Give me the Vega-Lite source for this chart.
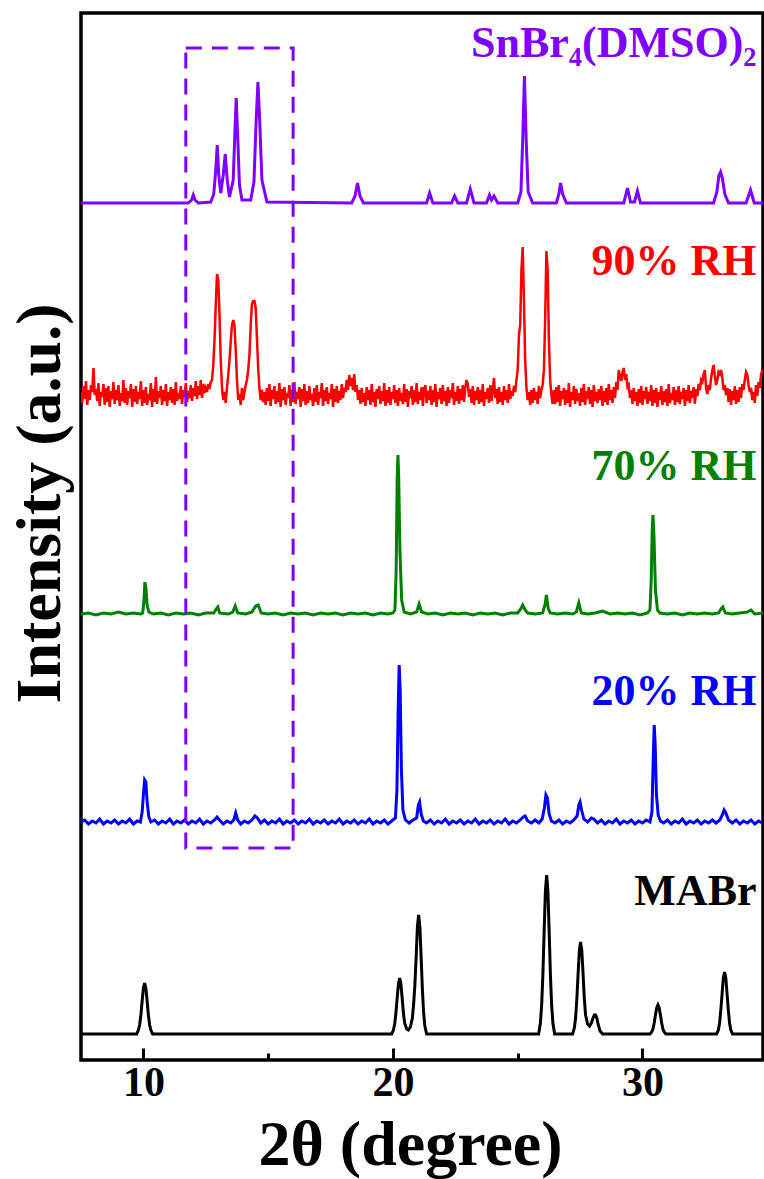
{
"$schema": "https://vega.github.io/schema/vega-lite/v6.json",
"width": 682, "height": 1047,
"autosize": "none",
"padding": {"left": 81, "top": 13, "right": 1, "bottom": 119},
"config": {"view": {"stroke": "black", "strokeWidth": 3.5}, "font": "Liberation Serif"},
"datasets": {
"mabr": [
{"x":7.5,"y":26},{"x":9.73,"y":26},{"x":9.8,"y":30},{"x":9.85,"y":35},{"x":9.9,"y":45},{"x":9.95,"y":59},{"x":10.0,"y":72},{"x":10.05,"y":77},{"x":10.1,"y":72},{"x":10.15,"y":59},{"x":10.2,"y":45},{"x":10.25,"y":35},{"x":10.3,"y":30},{"x":10.37,"y":26},
{"x":19.95,"y":26},{"x":20.02,"y":30},{"x":20.07,"y":36},{"x":20.12,"y":47},{"x":20.17,"y":62},{"x":20.22,"y":76},{"x":20.27,"y":82},{"x":20.32,"y":76},{"x":20.37,"y":62},{"x":20.42,"y":47},{"x":20.47,"y":37},{"x":20.55,"y":31},{"x":20.62,"y":30},
{"x":20.7,"y":33},{"x":20.78,"y":42},{"x":20.83,"y":56},{"x":20.88,"y":75},{"x":20.93,"y":103},{"x":20.98,"y":133},{"x":21.03,"y":145},{"x":21.08,"y":133},{"x":21.13,"y":103},{"x":21.18,"y":71},{"x":21.23,"y":47},{"x":21.28,"y":34},{"x":21.35,"y":26},
{"x":25.84,"y":26},{"x":25.91,"y":37},{"x":25.96,"y":55},{"x":26.01,"y":86},{"x":26.06,"y":129},{"x":26.11,"y":169},{"x":26.16,"y":185},{"x":26.21,"y":169},{"x":26.26,"y":129},{"x":26.31,"y":86},{"x":26.36,"y":55},{"x":26.41,"y":37},{"x":26.48,"y":26},
{"x":27.2,"y":26},{"x":27.27,"y":32},{"x":27.32,"y":42},{"x":27.37,"y":61},{"x":27.42,"y":86},{"x":27.47,"y":109},{"x":27.52,"y":118},{"x":27.57,"y":109},{"x":27.62,"y":86},{"x":27.67,"y":61},{"x":27.72,"y":45},{"x":27.8,"y":36},{"x":27.88,"y":34},{"x":27.95,"y":37},{"x":28.02,"y":42},{"x":28.07,"y":45},{"x":28.12,"y":45},{"x":28.17,"y":42},{"x":28.22,"y":36},{"x":28.3,"y":29},{"x":28.4,"y":26},
{"x":30.3,"y":26},{"x":30.37,"y":28},{"x":30.42,"y":31},{"x":30.47,"y":37},{"x":30.52,"y":45},{"x":30.57,"y":52},{"x":30.62,"y":55},{"x":30.67,"y":52},{"x":30.72,"y":45},{"x":30.77,"y":37},{"x":30.82,"y":31},{"x":30.87,"y":28},{"x":30.94,"y":26},
{"x":32.97,"y":26},{"x":33.04,"y":30},{"x":33.09,"y":37},{"x":33.14,"y":50},{"x":33.19,"y":66},{"x":33.24,"y":82},{"x":33.29,"y":88},{"x":33.34,"y":82},{"x":33.39,"y":66},{"x":33.44,"y":50},{"x":33.49,"y":37},{"x":33.54,"y":30},{"x":33.61,"y":26},{"x":34.85,"y":26}
],
"rh20": [
{"x":7.5,"y":238},{"x":7.65,"y":240},{"x":7.8,"y":236},{"x":7.95,"y":239},{"x":8.1,"y":237},{"x":8.25,"y":241},{"x":8.4,"y":236},{"x":8.55,"y":239},{"x":8.7,"y":237},{"x":8.85,"y":240},{"x":9.0,"y":236},{"x":9.15,"y":239},{"x":9.3,"y":237},{"x":9.45,"y":241},{"x":9.6,"y":236},{"x":9.75,"y":239},{"x":9.88,"y":238},{"x":9.95,"y":248},{"x":10.0,"y":265},{"x":10.05,"y":280},{"x":10.1,"y":278},{"x":10.15,"y":258},{"x":10.22,"y":243},{"x":10.3,"y":238},{"x":10.45,"y":240},{"x":10.6,"y":236},{"x":10.75,"y":239},{"x":10.9,"y":237},{"x":11.05,"y":241},{"x":11.2,"y":236},{"x":11.35,"y":239},{"x":11.5,"y":237},{"x":11.65,"y":240},{"x":11.8,"y":236},{"x":11.95,"y":239},{"x":12.1,"y":237},{"x":12.25,"y":241},{"x":12.4,"y":236},{"x":12.55,"y":239},{"x":12.7,"y":237},{"x":12.85,"y":240},{"x":12.95,"y":243},{"x":13.05,"y":240},{"x":13.2,"y":236},{"x":13.35,"y":239},{"x":13.5,"y":237},{"x":13.62,"y":240},{"x":13.7,"y":247},{"x":13.78,"y":240},{"x":13.9,"y":236},{"x":14.05,"y":239},{"x":14.2,"y":237},{"x":14.35,"y":240},{"x":14.47,"y":244},{"x":14.57,"y":242},{"x":14.7,"y":237},{"x":14.85,"y":240},{"x":15.0,"y":236},{"x":15.15,"y":239},{"x":15.3,"y":237},{"x":15.45,"y":241},{"x":15.6,"y":236},{"x":15.75,"y":239},{"x":15.9,"y":237},{"x":16.05,"y":240},{"x":16.2,"y":236},{"x":16.35,"y":239},{"x":16.5,"y":237},{"x":16.65,"y":241},{"x":16.8,"y":236},{"x":16.95,"y":239},{"x":17.1,"y":237},{"x":17.25,"y":240},{"x":17.4,"y":236},{"x":17.55,"y":239},{"x":17.7,"y":237},{"x":17.85,"y":241},{"x":18.0,"y":236},{"x":18.15,"y":239},{"x":18.3,"y":237},{"x":18.45,"y":240},{"x":18.6,"y":236},{"x":18.75,"y":239},{"x":18.9,"y":237},{"x":19.05,"y":241},{"x":19.2,"y":236},{"x":19.35,"y":239},{"x":19.5,"y":237},{"x":19.65,"y":240},{"x":19.8,"y":236},{"x":19.95,"y":239},{"x":20.1,"y":242},{"x":20.16,"y":270},{"x":20.21,"y":350},{"x":20.25,"y":395},{"x":20.29,"y":370},{"x":20.34,"y":290},{"x":20.4,"y":250},{"x":20.5,"y":240},{"x":20.65,"y":237},{"x":20.8,"y":240},{"x":20.95,"y":242},{"x":21.02,"y":255},{"x":21.07,"y":258},{"x":21.13,"y":246},{"x":21.22,"y":239},{"x":21.35,"y":237},{"x":21.5,"y":240},{"x":21.65,"y":236},{"x":21.8,"y":239},{"x":21.95,"y":237},{"x":22.1,"y":241},{"x":22.25,"y":236},{"x":22.4,"y":239},{"x":22.55,"y":237},{"x":22.7,"y":240},{"x":22.85,"y":236},{"x":23.0,"y":239},{"x":23.15,"y":237},{"x":23.3,"y":241},{"x":23.45,"y":236},{"x":23.6,"y":239},{"x":23.75,"y":237},{"x":23.9,"y":240},{"x":24.05,"y":236},{"x":24.2,"y":239},{"x":24.35,"y":237},{"x":24.5,"y":241},{"x":24.65,"y":236},{"x":24.8,"y":239},{"x":24.95,"y":237},{"x":25.1,"y":240},{"x":25.22,"y":243},{"x":25.3,"y":244},{"x":25.4,"y":239},{"x":25.55,"y":237},{"x":25.7,"y":240},{"x":25.85,"y":237},{"x":25.98,"y":241},{"x":26.07,"y":252},{"x":26.13,"y":265},{"x":26.19,"y":262},{"x":26.26,"y":246},{"x":26.35,"y":239},{"x":26.5,"y":237},{"x":26.65,"y":240},{"x":26.8,"y":236},{"x":26.95,"y":239},{"x":27.1,"y":237},{"x":27.25,"y":240},{"x":27.38,"y":244},{"x":27.45,"y":255},{"x":27.5,"y":258},{"x":27.56,"y":250},{"x":27.65,"y":241},{"x":27.8,"y":238},{"x":27.95,"y":242},{"x":28.05,"y":241},{"x":28.2,"y":237},{"x":28.35,"y":240},{"x":28.5,"y":236},{"x":28.65,"y":239},{"x":28.8,"y":237},{"x":28.95,"y":241},{"x":29.1,"y":236},{"x":29.25,"y":239},{"x":29.4,"y":237},{"x":29.55,"y":240},{"x":29.7,"y":236},{"x":29.85,"y":239},{"x":30.0,"y":237},{"x":30.15,"y":240},{"x":30.3,"y":238},{"x":30.38,"y":248},{"x":30.43,"y":300},{"x":30.47,"y":335},{"x":30.51,"y":315},{"x":30.56,"y":265},{"x":30.63,"y":245},{"x":30.72,"y":239},{"x":30.85,"y":237},{"x":31.0,"y":240},{"x":31.15,"y":236},{"x":31.3,"y":239},{"x":31.45,"y":237},{"x":31.6,"y":241},{"x":31.75,"y":236},{"x":31.9,"y":239},{"x":32.05,"y":237},{"x":32.2,"y":240},{"x":32.35,"y":236},{"x":32.5,"y":239},{"x":32.65,"y":237},{"x":32.8,"y":240},{"x":32.95,"y":237},{"x":33.1,"y":240},{"x":33.2,"y":245},{"x":33.27,"y":250},{"x":33.34,"y":247},{"x":33.45,"y":240},{"x":33.6,"y":237},{"x":33.75,"y":240},{"x":33.9,"y":236},{"x":34.05,"y":239},{"x":34.2,"y":237},{"x":34.35,"y":240},{"x":34.5,"y":236},{"x":34.65,"y":239},{"x":34.8,"y":237}
],
"rh70": [
{"x":7.5,"y":446},{"x":7.8,"y":447},{"x":8.1,"y":445},{"x":8.4,"y":447},{"x":8.7,"y":446},{"x":9.0,"y":448},{"x":9.3,"y":446},{"x":9.6,"y":447},{"x":9.9,"y":446},{"x":9.97,"y":447},{"x":10.02,"y":458},{"x":10.06,"y":478},{"x":10.1,"y":472},{"x":10.15,"y":455},{"x":10.22,"y":448},{"x":10.4,"y":446},{"x":10.7,"y":447},{"x":11.0,"y":445},{"x":11.3,"y":447},{"x":11.6,"y":446},{"x":11.9,"y":447},{"x":12.2,"y":445},{"x":12.5,"y":447},{"x":12.82,"y":447},{"x":12.92,"y":451},{"x":12.98,"y":453},{"x":13.06,"y":447},{"x":13.4,"y":446},{"x":13.58,"y":448},{"x":13.68,"y":454},{"x":13.78,"y":447},{"x":14.1,"y":446},{"x":14.35,"y":448},{"x":14.5,"y":454},{"x":14.6,"y":455},{"x":14.72,"y":447},{"x":15.0,"y":446},{"x":15.3,"y":447},{"x":15.6,"y":445},{"x":15.9,"y":447},{"x":16.2,"y":446},{"x":16.5,"y":447},{"x":16.8,"y":445},{"x":17.1,"y":447},{"x":17.4,"y":446},{"x":17.7,"y":447},{"x":18.0,"y":445},{"x":18.3,"y":447},{"x":18.6,"y":446},{"x":18.9,"y":447},{"x":19.2,"y":445},{"x":19.5,"y":447},{"x":19.8,"y":446},{"x":20.0,"y":447},{"x":20.08,"y":450},{"x":20.13,"y":490},{"x":20.17,"y":580},{"x":20.2,"y":605},{"x":20.23,"y":585},{"x":20.28,"y":510},{"x":20.35,"y":460},{"x":20.45,"y":448},{"x":20.7,"y":446},{"x":20.95,"y":448},{"x":21.05,"y":456},{"x":21.15,"y":448},{"x":21.4,"y":446},{"x":21.7,"y":447},{"x":22.0,"y":445},{"x":22.3,"y":447},{"x":22.6,"y":446},{"x":22.9,"y":447},{"x":23.2,"y":445},{"x":23.5,"y":447},{"x":23.8,"y":446},{"x":24.1,"y":447},{"x":24.4,"y":445},{"x":24.7,"y":447},{"x":25.0,"y":447},{"x":25.12,"y":451},{"x":25.2,"y":455},{"x":25.3,"y":450},{"x":25.4,"y":447},{"x":25.7,"y":446},{"x":26.0,"y":447},{"x":26.1,"y":456},{"x":26.15,"y":465},{"x":26.22,"y":452},{"x":26.3,"y":447},{"x":26.6,"y":446},{"x":26.9,"y":447},{"x":27.2,"y":446},{"x":27.35,"y":448},{"x":27.45,"y":457},{"x":27.55,"y":447},{"x":27.8,"y":446},{"x":28.1,"y":447},{"x":28.4,"y":449},{"x":28.7,"y":446},{"x":29.0,"y":447},{"x":29.3,"y":446},{"x":29.6,"y":447},{"x":29.9,"y":445},{"x":30.2,"y":447},{"x":30.3,"y":450},{"x":30.35,"y":480},{"x":30.39,"y":530},{"x":30.42,"y":545},{"x":30.46,"y":525},{"x":30.52,"y":470},{"x":30.6,"y":450},{"x":30.7,"y":447},{"x":31.0,"y":446},{"x":31.3,"y":447},{"x":31.6,"y":445},{"x":31.9,"y":447},{"x":32.2,"y":446},{"x":32.5,"y":447},{"x":32.8,"y":446},{"x":33.05,"y":447},{"x":33.15,"y":451},{"x":33.22,"y":453},{"x":33.32,"y":447},{"x":33.6,"y":446},{"x":33.9,"y":447},{"x":34.2,"y":448},{"x":34.35,"y":450},{"x":34.5,"y":446},{"x":34.85,"y":447}
],
"rh90": [
{"x":7.5,"y":668},{"x":7.55,"y":657},{"x":7.6,"y":674},{"x":7.65,"y":661},{"x":7.7,"y":679},{"x":7.75,"y":655},{"x":7.8,"y":670},{"x":7.85,"y":660},{"x":7.9,"y":675},{"x":7.95,"y":668},{"x":8.0,"y":692},{"x":8.05,"y":665},{"x":8.1,"y":671},{"x":8.15,"y":659},{"x":8.2,"y":677},{"x":8.25,"y":654},{"x":8.3,"y":668},{"x":8.35,"y":663},{"x":8.4,"y":676},{"x":8.45,"y":655},
{"x":8.5,"y":672},{"x":8.55,"y":658},{"x":8.6,"y":674},{"x":8.65,"y":653},{"x":8.7,"y":669},{"x":8.75,"y":661},{"x":8.8,"y":678},{"x":8.85,"y":656},{"x":8.9,"y":670},{"x":8.95,"y":660},{"x":9.0,"y":675},{"x":9.05,"y":654},{"x":9.1,"y":667},{"x":9.15,"y":659},{"x":9.2,"y":680},{"x":9.25,"y":657},{"x":9.3,"y":672},{"x":9.35,"y":655},{"x":9.4,"y":669},{"x":9.45,"y":662},
{"x":9.5,"y":676},{"x":9.55,"y":653},{"x":9.6,"y":671},{"x":9.65,"y":658},{"x":9.7,"y":674},{"x":9.75,"y":656},{"x":9.8,"y":668},{"x":9.85,"y":661},{"x":9.9,"y":679},{"x":9.95,"y":654},{"x":10.0,"y":670},{"x":10.05,"y":657},{"x":10.1,"y":673},{"x":10.15,"y":655},{"x":10.2,"y":666},{"x":10.25,"y":660},{"x":10.3,"y":677},{"x":10.35,"y":653},{"x":10.4,"y":671},{"x":10.45,"y":658},
{"x":10.5,"y":683},{"x":10.55,"y":656},{"x":10.6,"y":669},{"x":10.65,"y":662},{"x":10.7,"y":674},{"x":10.75,"y":655},{"x":10.8,"y":670},{"x":10.85,"y":659},{"x":10.9,"y":676},{"x":10.95,"y":654},{"x":11.0,"y":668},{"x":11.05,"y":660},{"x":11.1,"y":673},{"x":11.15,"y":657},{"x":11.2,"y":671},{"x":11.25,"y":655},{"x":11.3,"y":678},{"x":11.35,"y":659},{"x":11.4,"y":667},{"x":11.45,"y":661},
{"x":11.5,"y":674},{"x":11.55,"y":656},{"x":11.6,"y":670},{"x":11.65,"y":663},{"x":11.7,"y":677},{"x":11.75,"y":658},{"x":11.8,"y":669},{"x":11.85,"y":662},{"x":11.9,"y":675},{"x":11.95,"y":659},{"x":12.0,"y":672},{"x":12.05,"y":664},{"x":12.1,"y":679},{"x":12.15,"y":661},{"x":12.2,"y":674},{"x":12.25,"y":665},{"x":12.3,"y":680},{"x":12.35,"y":662},{"x":12.4,"y":676},{"x":12.45,"y":667},
{"x":12.5,"y":672},{"x":12.55,"y":668},{"x":12.6,"y":676},{"x":12.65,"y":671},{"x":12.7,"y":678},
{"x":12.75,"y":680},{"x":12.8,"y":695},{"x":12.85,"y":720},{"x":12.9,"y":755},{"x":12.95,"y":786},{"x":13.0,"y":780},{"x":13.05,"y":745},{"x":13.1,"y":700},{"x":13.15,"y":672},{"x":13.2,"y":660},{"x":13.25,"y":668},{"x":13.3,"y":657},{"x":13.35,"y":672},{"x":13.4,"y":685},{"x":13.45,"y":700},{"x":13.5,"y":718},{"x":13.55,"y":735},{"x":13.6,"y":740},{"x":13.65,"y":735},{"x":13.7,"y":710},{"x":13.75,"y":680},{"x":13.8,"y":660},{"x":13.85,"y":666},{"x":13.9,"y":655},{"x":13.95,"y":672},{"x":14.0,"y":660},{"x":14.05,"y":668},{"x":14.1,"y":675},{"x":14.15,"y":680},{"x":14.2,"y":690},{"x":14.25,"y":705},{"x":14.3,"y":735},{"x":14.35,"y":756},{"x":14.4,"y":759},{"x":14.45,"y":759},{"x":14.5,"y":752},{"x":14.55,"y":722},{"x":14.6,"y":692},{"x":14.65,"y":672},{"x":14.7,"y":660},{"x":14.75,"y":670},{"x":14.8,"y":658},
{"x":14.85,"y":668},{"x":14.9,"y":655},{"x":14.95,"y":672},{"x":15.0,"y":659},{"x":15.05,"y":676},{"x":15.1,"y":654},{"x":15.15,"y":670},{"x":15.2,"y":661},{"x":15.25,"y":674},{"x":15.3,"y":656},{"x":15.35,"y":669},{"x":15.4,"y":658},{"x":15.45,"y":677},{"x":15.5,"y":653},{"x":15.55,"y":671},{"x":15.6,"y":660},{"x":15.65,"y":673},{"x":15.7,"y":655},{"x":15.75,"y":667},{"x":15.8,"y":662},
{"x":15.85,"y":675},{"x":15.9,"y":654},{"x":15.95,"y":670},{"x":16.0,"y":658},{"x":16.05,"y":678},{"x":16.1,"y":656},{"x":16.15,"y":668},{"x":16.2,"y":661},{"x":16.25,"y":673},{"x":16.3,"y":653},{"x":16.35,"y":671},{"x":16.4,"y":659},{"x":16.45,"y":676},{"x":16.5,"y":655},{"x":16.55,"y":669},{"x":16.6,"y":657},{"x":16.65,"y":674},{"x":16.7,"y":660},{"x":16.75,"y":666},{"x":16.8,"y":654},
{"x":16.85,"y":672},{"x":16.9,"y":658},{"x":16.95,"y":675},{"x":17.0,"y":655},{"x":17.05,"y":668},{"x":17.1,"y":662},{"x":17.15,"y":677},{"x":17.2,"y":654},{"x":17.25,"y":670},{"x":17.3,"y":659},{"x":17.35,"y":673},{"x":17.4,"y":656},{"x":17.45,"y":667},{"x":17.5,"y":661},{"x":17.55,"y":676},{"x":17.6,"y":653},{"x":17.65,"y":671},{"x":17.7,"y":658},{"x":17.75,"y":674},{"x":17.8,"y":657},
{"x":17.85,"y":669},{"x":17.9,"y":660},{"x":17.95,"y":676},{"x":18.0,"y":662},{"x":18.05,"y":672},{"x":18.1,"y":668},{"x":18.15,"y":680},{"x":18.2,"y":670},{"x":18.25,"y":685},{"x":18.3,"y":674},{"x":18.35,"y":682},{"x":18.4,"y":670},{"x":18.45,"y":686},{"x":18.5,"y":668},{"x":18.55,"y":675},{"x":18.6,"y":660},{"x":18.65,"y":670},{"x":18.7,"y":656},{"x":18.75,"y":672},{"x":18.8,"y":658},
{"x":18.85,"y":667},{"x":18.9,"y":654},{"x":18.95,"y":673},{"x":19.0,"y":660},{"x":19.05,"y":670},{"x":19.1,"y":655},{"x":19.15,"y":676},{"x":19.2,"y":658},{"x":19.25,"y":668},{"x":19.3,"y":653},{"x":19.35,"y":671},{"x":19.4,"y":661},{"x":19.45,"y":674},{"x":19.5,"y":656},{"x":19.55,"y":669},{"x":19.6,"y":659},{"x":19.65,"y":677},{"x":19.7,"y":654},{"x":19.75,"y":670},{"x":19.8,"y":657},
{"x":19.85,"y":673},{"x":19.9,"y":655},{"x":19.95,"y":668},{"x":20.0,"y":661},{"x":20.05,"y":675},{"x":20.1,"y":657},{"x":20.15,"y":670},{"x":20.2,"y":654},{"x":20.25,"y":672},{"x":20.3,"y":659},{"x":20.35,"y":667},{"x":20.4,"y":656},{"x":20.45,"y":676},{"x":20.5,"y":658},{"x":20.55,"y":671},{"x":20.6,"y":653},{"x":20.65,"y":669},{"x":20.7,"y":662},{"x":20.75,"y":674},{"x":20.8,"y":655},
{"x":20.85,"y":670},{"x":20.9,"y":658},{"x":20.95,"y":677},{"x":21.0,"y":656},{"x":21.05,"y":668},{"x":21.1,"y":660},{"x":21.15,"y":673},{"x":21.2,"y":654},{"x":21.25,"y":671},{"x":21.3,"y":675},{"x":21.35,"y":657},{"x":21.4,"y":669},{"x":21.45,"y":660},{"x":21.5,"y":674},{"x":21.55,"y":655},{"x":21.6,"y":670},{"x":21.65,"y":658},{"x":21.7,"y":676},{"x":21.75,"y":653},{"x":21.8,"y":668},
{"x":21.85,"y":661},{"x":21.9,"y":672},{"x":21.95,"y":656},{"x":22.0,"y":675},{"x":22.05,"y":659},{"x":22.1,"y":669},{"x":22.15,"y":654},{"x":22.2,"y":673},{"x":22.25,"y":657},{"x":22.3,"y":670},{"x":22.35,"y":662},{"x":22.4,"y":677},{"x":22.45,"y":655},{"x":22.5,"y":668},{"x":22.55,"y":659},{"x":22.6,"y":674},{"x":22.65,"y":656},{"x":22.7,"y":671},{"x":22.75,"y":660},{"x":22.8,"y":675},
{"x":22.85,"y":658},{"x":22.9,"y":672},{"x":22.95,"y":680},{"x":23.0,"y":676},{"x":23.05,"y":663},{"x":23.1,"y":671},{"x":23.15,"y":657},{"x":23.2,"y":674},{"x":23.25,"y":655},{"x":23.3,"y":669},{"x":23.35,"y":660},{"x":23.4,"y":673},{"x":23.45,"y":656},{"x":23.5,"y":670},{"x":23.55,"y":658},{"x":23.6,"y":676},{"x":23.65,"y":654},{"x":23.7,"y":668},{"x":23.75,"y":661},{"x":23.8,"y":672},
{"x":23.85,"y":657},{"x":23.9,"y":675},{"x":23.95,"y":659},{"x":24.0,"y":670},{"x":24.05,"y":682},{"x":24.1,"y":662},{"x":24.15,"y":671},{"x":24.2,"y":656},{"x":24.25,"y":673},{"x":24.3,"y":658},{"x":24.35,"y":668},{"x":24.4,"y":655},{"x":24.45,"y":674},{"x":24.5,"y":660},{"x":24.55,"y":670},{"x":24.6,"y":657},{"x":24.65,"y":676},{"x":24.7,"y":661},{"x":24.75,"y":669},{"x":24.8,"y":664},
{"x":24.85,"y":674},{"x":24.9,"y":668},{"x":24.95,"y":680},
{"x":25.0,"y":690},{"x":25.05,"y":725},{"x":25.1,"y":735},{"x":25.15,"y":790},{"x":25.2,"y":813},{"x":25.25,"y":760},{"x":25.3,"y":700},{"x":25.35,"y":672},{"x":25.4,"y":660},{"x":25.45,"y":668},{"x":25.5,"y":655},{"x":25.55,"y":670},{"x":25.6,"y":657},{"x":25.65,"y":672},{"x":25.7,"y":660},{"x":25.75,"y":668},{"x":25.8,"y":656},{"x":25.85,"y":674},{"x":25.9,"y":662},{"x":25.95,"y":670},{"x":26.0,"y":675},{"x":26.05,"y":690},{"x":26.1,"y":740},{"x":26.15,"y":809},{"x":26.2,"y":790},{"x":26.25,"y":720},{"x":26.3,"y":680},{"x":26.35,"y":665},{"x":26.4,"y":656},
{"x":26.45,"y":670},{"x":26.5,"y":656},{"x":26.55,"y":673},{"x":26.6,"y":658},{"x":26.65,"y":675},{"x":26.7,"y":654},{"x":26.75,"y":669},{"x":26.8,"y":661},{"x":26.85,"y":672},{"x":26.9,"y":655},{"x":26.95,"y":670},{"x":27.0,"y":657},{"x":27.05,"y":677},{"x":27.1,"y":653},{"x":27.15,"y":668},{"x":27.2,"y":660},{"x":27.25,"y":674},{"x":27.3,"y":656},{"x":27.35,"y":671},{"x":27.4,"y":659},
{"x":27.45,"y":667},{"x":27.5,"y":654},{"x":27.55,"y":672},{"x":27.6,"y":658},{"x":27.65,"y":676},{"x":27.7,"y":655},{"x":27.75,"y":669},{"x":27.8,"y":661},{"x":27.85,"y":673},{"x":27.9,"y":656},{"x":27.95,"y":670},{"x":28.0,"y":653},{"x":28.05,"y":675},{"x":28.1,"y":659},{"x":28.15,"y":668},{"x":28.2,"y":657},{"x":28.25,"y":671},{"x":28.3,"y":660},{"x":28.35,"y":674},{"x":28.4,"y":654},
{"x":28.45,"y":669},{"x":28.5,"y":658},{"x":28.55,"y":672},{"x":28.6,"y":655},{"x":28.65,"y":676},{"x":28.7,"y":660},{"x":28.75,"y":670},{"x":28.8,"y":657},{"x":28.85,"y":673},{"x":28.9,"y":662},{"x":28.95,"y":678},{"x":29.0,"y":670},{"x":29.05,"y":690},{"x":29.1,"y":684},{"x":29.15,"y":679},{"x":29.2,"y":688},{"x":29.25,"y":692},{"x":29.3,"y":680},{"x":29.35,"y":686},{"x":29.4,"y":673},
{"x":29.45,"y":675},{"x":29.5,"y":662},{"x":29.55,"y":670},{"x":29.6,"y":656},{"x":29.65,"y":672},{"x":29.7,"y":659},{"x":29.75,"y":668},{"x":29.8,"y":654},{"x":29.85,"y":671},{"x":29.9,"y":657},{"x":29.95,"y":674},{"x":30.0,"y":655},{"x":30.05,"y":669},{"x":30.1,"y":661},{"x":30.15,"y":673},{"x":30.2,"y":656},{"x":30.25,"y":668},{"x":30.3,"y":659},{"x":30.35,"y":675},{"x":30.4,"y":654},
{"x":30.45,"y":670},{"x":30.5,"y":657},{"x":30.55,"y":672},{"x":30.6,"y":653},{"x":30.65,"y":668},{"x":30.7,"y":660},{"x":30.75,"y":674},{"x":30.8,"y":655},{"x":30.85,"y":669},{"x":30.9,"y":658},{"x":30.95,"y":671},{"x":31.0,"y":654},{"x":31.05,"y":676},{"x":31.1,"y":657},{"x":31.15,"y":667},{"x":31.2,"y":660},{"x":31.25,"y":673},{"x":31.3,"y":655},{"x":31.35,"y":670},{"x":31.4,"y":658},
{"x":31.45,"y":674},{"x":31.5,"y":656},{"x":31.55,"y":668},{"x":31.6,"y":661},{"x":31.65,"y":672},{"x":31.7,"y":654},{"x":31.75,"y":670},{"x":31.8,"y":659},{"x":31.85,"y":675},{"x":31.9,"y":657},{"x":31.95,"y":669},{"x":32.0,"y":662},{"x":32.05,"y":673},{"x":32.1,"y":656},{"x":32.15,"y":671},{"x":32.2,"y":664},{"x":32.25,"y":676},{"x":32.3,"y":670},{"x":32.35,"y":680},{"x":32.4,"y":678},
{"x":32.45,"y":686},{"x":32.5,"y":690},{"x":32.55,"y":672},{"x":32.6,"y":666},{"x":32.65,"y":675},{"x":32.7,"y":670},{"x":32.75,"y":682},{"x":32.8,"y":690},{"x":32.85,"y":695},{"x":32.9,"y":684},{"x":32.95,"y":675},{"x":33.0,"y":680},{"x":33.05,"y":688},{"x":33.1,"y":686},{"x":33.15,"y":690},{"x":33.2,"y":682},{"x":33.25,"y":670},{"x":33.3,"y":675},{"x":33.35,"y":665},{"x":33.4,"y":672},
{"x":33.45,"y":658},{"x":33.5,"y":671},{"x":33.55,"y":655},{"x":33.6,"y":669},{"x":33.65,"y":660},{"x":33.7,"y":674},{"x":33.75,"y":656},{"x":33.8,"y":670},{"x":33.85,"y":658},{"x":33.9,"y":673},{"x":33.95,"y":662},{"x":34.0,"y":676},{"x":34.05,"y":670},{"x":34.1,"y":680},{"x":34.15,"y":688},{"x":34.2,"y":685},{"x":34.25,"y":675},{"x":34.3,"y":668},{"x":34.35,"y":672},{"x":34.4,"y":660},
{"x":34.45,"y":668},{"x":34.5,"y":657},{"x":34.55,"y":675},{"x":34.6,"y":664},{"x":34.65,"y":678},{"x":34.7,"y":672},{"x":34.75,"y":685},{"x":34.8,"y":690}
],
"snbr": [
{"x":7.5,"y":857},{"x":11.8,"y":857},{"x":11.93,"y":860},{"x":12.0,"y":865},{"x":12.07,"y":860},{"x":12.2,"y":857},{"x":12.7,"y":858},{"x":12.82,"y":866},{"x":12.9,"y":890},{"x":12.96,"y":915},{"x":13.02,"y":885},{"x":13.1,"y":867},{"x":13.2,"y":885},{"x":13.28,"y":906},{"x":13.36,"y":880},{"x":13.45,"y":863},{"x":13.6,"y":880},{"x":13.67,"y":930},{"x":13.72,"y":962},{"x":13.77,"y":930},{"x":13.85,"y":875},{"x":13.95,"y":860},{"x":14.3,"y":860},{"x":14.43,"y":878},{"x":14.52,"y":940},{"x":14.59,"y":978},{"x":14.66,"y":940},{"x":14.75,"y":880},{"x":14.95,"y":858},
{"x":18.35,"y":857},{"x":18.48,"y":864},{"x":18.58,"y":877},{"x":18.68,"y":864},{"x":18.82,"y":857},{"x":21.35,"y":857},{"x":21.47,"y":867},{"x":21.6,"y":857},{"x":22.35,"y":857},{"x":22.47,"y":864},{"x":22.6,"y":857},{"x":22.95,"y":857},{"x":23.1,"y":871},{"x":23.25,"y":857},{"x":23.75,"y":857},{"x":23.87,"y":865},{"x":23.95,"y":860},{"x":24.05,"y":864},{"x":24.2,"y":857},
{"x":25.0,"y":857},{"x":25.13,"y":868},{"x":25.2,"y":920},{"x":25.27,"y":984},{"x":25.34,"y":920},{"x":25.42,"y":868},{"x":25.6,"y":857},{"x":26.55,"y":857},{"x":26.65,"y":866},{"x":26.72,"y":877},{"x":26.8,"y":866},{"x":26.95,"y":857},{"x":29.25,"y":857},{"x":29.4,"y":872},{"x":29.52,"y":858},{"x":29.68,"y":858},{"x":29.8,"y":869},{"x":29.92,"y":857},
{"x":32.85,"y":857},{"x":32.98,"y":868},{"x":33.06,"y":884},{"x":33.13,"y":888},{"x":33.2,"y":882},{"x":33.3,"y":866},{"x":33.45,"y":857},{"x":34.15,"y":857},{"x":34.33,"y":870},{"x":34.48,"y":857},{"x":34.85,"y":857}
],
"labels": [
{"s":"SnBr4","label":"SnBr₄(DMSO)₂","x":34.57,"y":1003},
{"s":"90% RH","label":"90% RH","x":34.57,"y":785},
{"s":"70% RH","label":"70% RH","x":34.57,"y":580},
{"s":"20% RH","label":"20% RH","x":34.57,"y":355},
{"s":"MABr","label":"MABr","x":34.57,"y":155}
],
"box": [{"x1":11.7,"x2":16.0,"y1":212,"y2":1012}]
},
"layer": [
{
"data": {"name": "mabr"},
"mark": {"type": "line", "strokeWidth": 3, "clip": true},
"encoding": {
"x": {"field": "x", "type": "quantitative",
 "scale": {"domain": [7.5, 34.83], "nice": false, "zero": false},
 "axis": {"values": [10, 15, 20, 25, 30],
  "labelExpr": "datum.value % 10 === 0 ? datum.label : ''",
  "tickSize": {"condition": {"test": "datum.value % 10 === 0", "value": -12}, "value": -7},
  "tickWidth": 3, "tickColor": "black", "domain": false, "grid": false,
  "labelFont": "Liberation Serif", "labelFontSize": 42, "labelFontWeight": "bold", "labelColor": "black", "labelPadding": 14,
  "title": "2θ (degree)", "titleFont": "Liberation Serif", "titleFontSize": 64, "titleFontWeight": "bold", "titleColor": "black",
  "titleBaseline": "alphabetic", "titleAlign": "center", "titleX": 329, "titleY": 104}},
"y": {"field": "y", "type": "quantitative",
 "scale": {"domain": [0, 1047], "nice": false, "zero": false},
 "axis": {"title": "Intensity (a.u.)", "labels": false, "ticks": false, "domain": false, "grid": false,
  "titleFont": "Liberation Serif", "titleFontSize": 64, "titleFontWeight": "bold", "titleColor": "black",
  "titleBaseline": "alphabetic", "titleX": -22, "titleY": 490, "titleAngle": -90, "titleAlign": "center"}},
"color": {"datum": "MABr", "type": "nominal",
 "scale": {"domain": ["MABr", "20% RH", "70% RH", "90% RH", "SnBr4"], "range": ["#000000", "#0000FF", "#008000", "#FF0000", "#7F00FF"]},
 "legend": null}
}
},
{
"data": {"name": "rh20"},
"mark": {"type": "line", "strokeWidth": 3, "clip": true},
"encoding": {"x": {"field": "x", "type": "quantitative"}, "y": {"field": "y", "type": "quantitative"}, "color": {"datum": "20% RH", "type": "nominal", "legend": null}}
},
{
"data": {"name": "rh70"},
"mark": {"type": "line", "strokeWidth": 3, "clip": true},
"encoding": {"x": {"field": "x", "type": "quantitative"}, "y": {"field": "y", "type": "quantitative"}, "color": {"datum": "70% RH", "type": "nominal", "legend": null}}
},
{
"data": {"name": "rh90"},
"mark": {"type": "line", "strokeWidth": 2.5, "clip": true},
"encoding": {"x": {"field": "x", "type": "quantitative"}, "y": {"field": "y", "type": "quantitative"}, "color": {"datum": "90% RH", "type": "nominal", "legend": null}}
},
{
"data": {"name": "snbr"},
"mark": {"type": "line", "strokeWidth": 3, "clip": true},
"encoding": {"x": {"field": "x", "type": "quantitative"}, "y": {"field": "y", "type": "quantitative"}, "color": {"datum": "SnBr4", "type": "nominal", "legend": null}}
},
{
"data": {"name": "box"},
"mark": {"type": "rect", "fill": "transparent", "stroke": "#7F00FF", "strokeWidth": 3, "strokeDash": [16, 10]},
"encoding": {
"x": {"field": "x1", "type": "quantitative"},
"x2": {"field": "x2"},
"y": {"field": "y1", "type": "quantitative"},
"y2": {"field": "y2"}
}
},
{
"data": {"name": "labels"},
"mark": {"type": "text", "align": "right", "baseline": "alphabetic", "font": "Liberation Serif", "fontWeight": "bold", "fontSize": 44},
"encoding": {
"x": {"field": "x", "type": "quantitative"},
"y": {"field": "y", "type": "quantitative"},
"text": {"field": "label"},
"color": {"field": "s", "type": "nominal", "legend": null}
}
}
]
}
